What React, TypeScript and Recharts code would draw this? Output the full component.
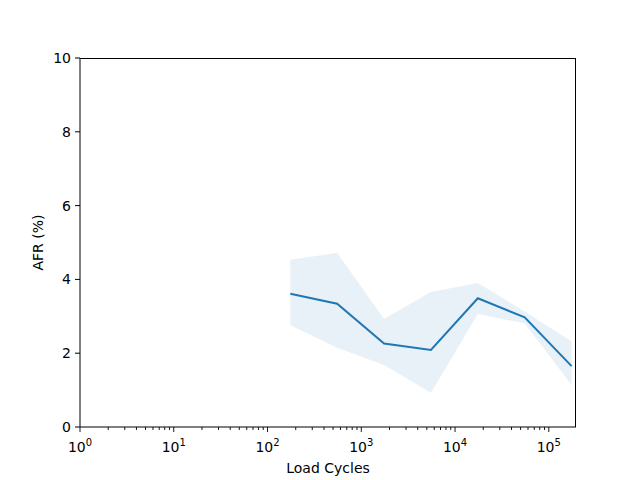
import React from 'react';
import {
  ComposedChart,
  Area,
  Line,
  XAxis,
  YAxis,
} from 'recharts';

const cycles = [175, 553, 1750, 5530, 17500, 55300, 175000];
const afr = [3.61, 3.34, 2.26, 2.09, 3.49, 2.97, 1.65];
const afrLow = [2.76, 2.15, 1.68, 0.93, 3.06, 2.81, 1.14];
const afrHigh = [4.53, 4.72, 2.93, 3.66, 3.9, 3.13, 2.32];

const majorTicks = [1, 10, 100, 1000, 10000, 100000];
const minorTicks: number[] = [];
majorTicks.forEach((d) => {
  for (let m = 2; m <= 9; m++) {
    if (d * m <= 195000) minorTicks.push(d * m);
  }
});
const allTicks = [...majorTicks, ...minorTicks].sort((a, b) => a - b);
const yTicks = [0, 2, 4, 6, 8, 10];

const data = cycles.map((c, i) => ({
  cycles: c,
  afr: afr[i],
  band: [afrLow[i], afrHigh[i]],
}));

const FONT = 'DejaVu Sans, sans-serif';

// draws tick line + label ourselves so minor ticks get no text
const LogTick = (props: any) => {
  const { x, y, payload } = props;
  const exp = Math.log10(payload.value);
  const major = Math.abs(exp - Math.round(exp)) < 1e-9;
  return (
    <g>
      <line x1={x} x2={x} y1={y} y2={y + (major ? 5 : 3)} stroke="#000" strokeWidth={0.9} />
      {major && (
        <text x={x} y={y + 25} textAnchor="middle" fontFamily={FONT} fontSize={14} fill="#000">
          10
          <tspan dy={-6} fontSize={10}>{Math.round(exp)}</tspan>
        </text>
      )}
    </g>
  );
};

const App = () => {
  return (
    <div style={{ position: 'absolute', left: 0, top: 0, width: 640, height: 480, background: '#fff' }}>
      <ComposedChart
        width={640}
        height={480}
        data={data}
        margin={{ top: 58, right: 64, left: 0, bottom: 0 }}
      >
        <XAxis
          dataKey="cycles"
          type="number"
          scale="log"
          domain={[1, 195000]}
          ticks={allTicks}
          interval={0}
          allowDataOverflow
          tick={<LogTick />}
          tickLine={false}
          tickSize={0}
          tickMargin={0}
          stroke="#000"
          height={53}
          label={{ value: 'Load Cycles', position: 'insideBottom', offset: 7, fill: '#000', fontFamily: FONT, fontSize: 14 }}
        />
        <YAxis
          domain={[0, 10]}
          ticks={yTicks}
          tickSize={5}
          tickMargin={4}
          stroke="#000"
          width={80}
          tick={{ fill: '#000', fontFamily: FONT, fontSize: 14 }}
          label={{ value: 'AFR (%)', angle: -90, position: 'insideLeft', offset: 38, fill: '#000', fontFamily: FONT, fontSize: 14, style: { textAnchor: 'middle' } }}
        />
        <Area
          dataKey="band"
          stroke="none"
          fill="#1f77b4"
          fillOpacity={0.1}
          isAnimationActive={false}
          activeDot={false}
        />
        <Line
          dataKey="afr"
          stroke="#1f77b4"
          strokeWidth={2}
          dot={false}
          activeDot={false}
          isAnimationActive={false}
        />
      </ComposedChart>
      <div
        style={{
          position: 'absolute',
          left: 80,
          top: 58,
          width: 496,
          height: 369,
          boxSizing: 'border-box',
          borderTop: '1px solid #000',
          borderRight: '1px solid #000',
          pointerEvents: 'none',
        }}
      />
    </div>
  );
};

export default App;
